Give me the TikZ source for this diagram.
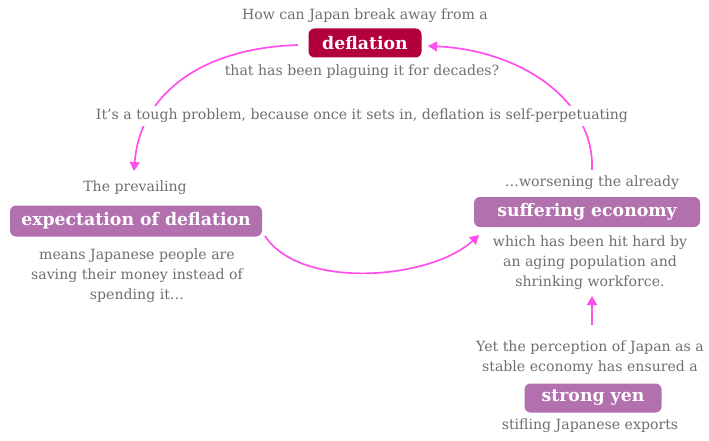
\documentclass[tikz,border=0pt]{standalone}
\usepackage{fontspec}
\setmainfont{DejaVu Serif}
\usetikzlibrary{arrows.meta}
\definecolor{txt}{RGB}{110,110,110}
\definecolor{crimson}{RGB}{178,0,58}
\definecolor{purp}{RGB}{178,112,175}
\definecolor{mag}{RGB}{255,80,235}
\tikzset{
  body/.style={text=txt, font=\fontsize{14.1}{20}\selectfont, align=center, inner sep=1pt},
  bodybg/.style={body, fill=white, inner sep=3pt},
  keybox/.style={rounded corners=6pt, text=white, font=\fontsize{17.3}{20}\selectfont\bfseries, inner sep=0pt},
  flow/.style={draw=mag, line width=1.7pt, -{Triangle[length=9pt,width=10pt]}}
}
\begin{document}
\begin{tikzpicture}[x=1pt,y=-1pt]
\useasboundingbox (0,0) rectangle (709,441);
% boxes
\node[keybox, fill=crimson, minimum width=113pt, minimum height=29pt] (defl) at (365,43) {deflation};
\node[keybox, fill=purp, minimum width=252pt, minimum height=31pt] (expect) at (136,221) {expectation of deflation};
\node[keybox, fill=purp, minimum width=226pt, minimum height=30pt] (suff) at (587,212) {suffering economy};
\node[keybox, fill=purp, minimum width=137pt, minimum height=29pt] (yen) at (593,398) {strong yen};
% coordinates
\coordinate (a1s) at (298,45);
\coordinate (a1e) at (134,171);
\coordinate (a2s) at (265,236);
\coordinate (a2e) at (479,235);
\coordinate (a3s) at (592,170);
\coordinate (a3e) at (428,46);
\coordinate (a4s) at (592,325);
\coordinate (a4e) at (592,296);
% arrows
\draw[flow] (a1s) .. controls (200,48) and (140,95) .. (a1e);
\draw[flow] (a2s) .. controls (300,290) and (430,280) .. (a2e);
\draw[flow] (a3s) .. controls (595,100) and (520,50) .. (a3e);
\draw[flow] (a4s) -- (a4e);
% texts
\node[body] (t1) at (365,16) {How can Japan break away from a};
\node[body] (t2) at (362,72) {that has been plaguing it for decades?};
\node[bodybg] (t3) at (362,116) {It’s a tough problem, because once it sets in, deflation is self-perpetuating};
\node[body] (t4) at (135,188) {The prevailing};
\node[body] (t5) at (137,276) {means Japanese people are\\saving their money instead of\\spending it…};
\node[body] (t6) at (592,183) {…worsening the already};
\node[body] (t7) at (590,263) {which has been hit hard by\\an aging population and\\shrinking workforce.};
\node[body] (t8) at (590,358) {Yet the perception of Japan as a\\stable economy has ensured a};
\node[body] (t9) at (590,426) {stifling Japanese exports};
\end{tikzpicture}
\end{document}
